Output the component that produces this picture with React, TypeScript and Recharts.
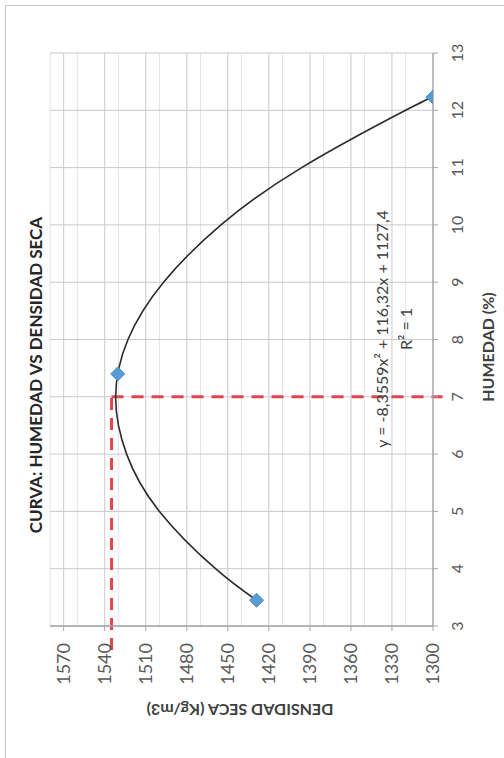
import React from "react";
import {
  ComposedChart, Line, Scatter, XAxis, YAxis, CartesianGrid, ReferenceLine,
} from "recharts";

// ensayo proctor: puntos medidos
const PUNTOS_HUMEDAD = [3.45, 7.4, 12.23];
const PUNTOS_DENSIDAD = [1429, 1530.5, 1300];

// linea de tendencia polinomica
const CURVA_HUMEDAD = [3.45, 4, 5, 6, 7, 8, 9, 10, 11, 12, 12.23];
const CURVA_DENSIDAD = [1429, 1459, 1500, 1524, 1532, 1523, 1497, 1455, 1396, 1320, 1300];

const HUMEDAD_TICKS = [3, 4, 5, 6, 7, 8, 9, 10, 11, 12, 13];
const DENSIDAD_TICKS = [1300, 1330, 1360, 1390, 1420, 1450, 1480, 1510, 1540, 1570];
const DENSIDAD_MINOR = [
  1310, 1320, 1340, 1350, 1370, 1380, 1400, 1410, 1430, 1440, 1460, 1470,
  1490, 1500, 1520, 1530, 1550, 1560, 1580,
];

// humedad optima / densidad maxima (lineas rojas)
const HUMEDAD_OPTIMA = 7;
const DENSIDAD_MAXIMA = 1535;

const puntos = PUNTOS_HUMEDAD.map((h, i) => ({ h, d: PUNTOS_DENSIDAD[i] }));
const curva = CURVA_HUMEDAD.map((h, i) => ({ h, d: CURVA_DENSIDAD[i] }));

const W = 758;
const H = 504;
const FONT = "Lato, 'Open Sans', sans-serif";

const Diamond = (props: any) => {
  const { cx, cy } = props;
  const r = 7;
  return (
    <polygon
      points={`${cx},${cy - r} ${cx + r},${cy} ${cx},${cy + r} ${cx - r},${cy}`}
      fill="#5b9bd5"
      stroke="#4a8ac4"
      strokeWidth={1}
    />
  );
};

export default function App() {
  return (
    <div style={{ position: "fixed", left: 0, top: 0, width: 504, height: 758, background: "#fff", overflow: "hidden" }}>
      {/* marco exterior */}
      <div
        style={{
          position: "absolute", left: 5, top: 5, width: 520, height: 780,
          borderTop: "1.5px solid #c4c4c4", borderLeft: "1.5px solid #c4c4c4",
        }}
      />
      {/* el grafico original esta girado 90 grados */}
      <div
        style={{
          position: "absolute", left: 0, top: 0, width: W, height: H,
          transformOrigin: "0 0", transform: `translateY(${W}px) rotate(-90deg)`,
          fontFamily: FONT,
        }}
      >
        <ComposedChart width={W} height={H} margin={{ top: 50, right: 53, bottom: 41, left: 52 }}>
          <CartesianGrid
            horizontalValues={DENSIDAD_MINOR}
            vertical={false}
            stroke="#e4e4e4"
            strokeWidth={1}
          />
          <CartesianGrid
            horizontalValues={DENSIDAD_TICKS}
            verticalValues={HUMEDAD_TICKS}
            stroke="#c9c9c9"
            strokeWidth={1}
          />
          <XAxis
            type="number"
            dataKey="h"
            domain={[3, 13]}
            ticks={HUMEDAD_TICKS}
            height={30}
            tickSize={5}
            tickMargin={14}
            axisLine={{ stroke: "#a6a6a6", strokeWidth: 1.3 }}
            tickLine={{ stroke: "#a6a6a6" }}
            tick={{ fontSize: 16, fill: "#595959", fontFamily: FONT }}
            allowDataOverflow
          />
          <YAxis
            type="number"
            dataKey="d"
            domain={[1300, 1580]}
            ticks={DENSIDAD_TICKS}
            width={80}
            tickSize={5}
            tickMargin={12}
            axisLine={{ stroke: "#a6a6a6", strokeWidth: 1.3 }}
            tickLine={{ stroke: "#a6a6a6" }}
            tick={{ fontSize: 18, fill: "#595959", fontFamily: FONT }}
            allowDataOverflow
          />
          <ReferenceLine
            segment={[{ x: 2.58, y: DENSIDAD_MAXIMA }, { x: HUMEDAD_OPTIMA, y: DENSIDAD_MAXIMA }]}
            stroke="#e0474c"
            strokeWidth={3}
            strokeDasharray="12 8"
            ifOverflow="visible"
          />
          <ReferenceLine
            segment={[{ x: HUMEDAD_OPTIMA, y: DENSIDAD_MAXIMA }, { x: HUMEDAD_OPTIMA, y: 1293 }]}
            stroke="#e0474c"
            strokeWidth={3}
            strokeDasharray="12 8"
            ifOverflow="visible"
          />
          <Line
            data={curva}
            dataKey="d"
            type="natural"
            stroke="#2b2b2b"
            strokeWidth={1.6}
            dot={false}
            activeDot={false}
            isAnimationActive={false}
          />
          <Scatter data={puntos} dataKey="d" shape={Diamond} isAnimationActive={false} />
        </ComposedChart>

        {/* textos del grafico */}
        <svg width={W} height={H} style={{ position: "absolute", left: 0, top: 0, pointerEvents: "none" }}>
          <text x={383} y={42} textAnchor="middle" fontSize={17} fontWeight={700} fill="#262626" fontFamily={FONT}>
            CURVA: HUMEDAD VS DENSIDAD SECA
          </text>
          <text
            x={48} y={240} textAnchor="middle" dominantBaseline="central"
            transform="rotate(-90 48 240)"
            fontSize={16} fontWeight={700} fill="#404040" fontFamily={FONT}
          >
            DENSIDAD SECA (Kg/m3)
          </text>
          <text x={411} y={494} textAnchor="middle" fontSize={16} fontWeight={700} fill="#404040" fontFamily={FONT}>
            HUMEDAD (%)
          </text>
          <text x={429} y={388} textAnchor="middle" fontSize={16} fill="#404040" fontFamily={FONT}>
            y = -8,3559x² + 116,32x + 1127,4
          </text>
          <text x={429} y={412} textAnchor="middle" fontSize={16} fill="#404040" fontFamily={FONT}>
            R² = 1
          </text>
        </svg>
      </div>
    </div>
  );
}
